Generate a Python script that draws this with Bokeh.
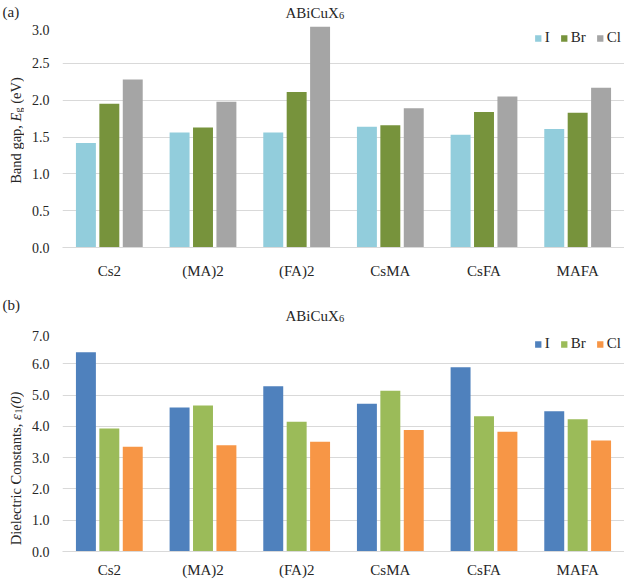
import math
from bokeh.plotting import figure
from bokeh.models import (FactorRange, Range1d, FixedTicker, PrintfTickFormatter,
                          Label, Legend, LegendItem, ColumnDataSource)
from bokeh.transform import dodge
from bokeh.layouts import column, row
from bokeh.embed import file_html
from bokeh.resources import INLINE

# ---------------- data ----------------
categories = ["Cs2", "(MA)2", "(FA)2", "CsMA", "CsFA", "MAFA"]
series = ["I", "Br", "Cl"]

band_gap_I = [1.42, 1.56, 1.56, 1.64, 1.53, 1.61]
band_gap_Br = [1.95, 1.63, 2.11, 1.66, 1.84, 1.83]
band_gap_Cl = [2.28, 1.98, 3.00, 1.89, 2.05, 2.17]
band_ticks = [0.0, 0.5, 1.0, 1.5, 2.0, 2.5, 3.0]

diel_I = [6.37, 4.60, 5.28, 4.72, 5.89, 4.48]
diel_Br = [3.93, 4.67, 4.15, 5.14, 4.32, 4.23]
diel_Cl = [3.35, 3.40, 3.51, 3.88, 3.83, 3.55]
diel_ticks = [0.0, 1.0, 2.0, 3.0, 4.0, 5.0, 6.0, 7.0]

top_colors = ["#92CDDC", "#77933C", "#A5A5A5"]
bottom_colors = ["#4F81BD", "#9BBB59", "#F79646"]

FONT = "Liberation Serif"
TXT = "#262626"
GRID = "#D9D9D9"
W = 624
YLAB_W = 24
FRAME_LEFT = 62


def blank(width, height, top=0, bottom=0):
    f = figure(width=width, height=height, x_range=Range1d(0, width),
               y_range=Range1d(0, height - top - bottom), x_axis_type=None,
               y_axis_type=None, min_border=0, min_border_top=top,
               min_border_bottom=bottom, output_backend="svg",
               toolbar_location=None, title_location=None)
    f.outline_line_color = None
    f.xgrid.visible = False
    f.ygrid.visible = False
    return f


def txt(x, y, text, size="15px", style="normal", angle=0.0, x_offset=0, y_offset=0):
    return Label(x=x, y=y, text=text, angle=angle, x_offset=x_offset, y_offset=y_offset,
                 text_font=FONT, text_font_size=size, text_color=TXT,
                 text_font_style=style, text_baseline="alphabetic", text_align="left")


def header(height, tag, tag_base, title_base):
    h = blank(W, height)
    h.add_layout(txt(2, height - tag_base, tag))
    h.add_layout(txt(285, height - title_base, "ABiCuX"))
    h.add_layout(txt(338.5, height - title_base - 3, "6", size="10.5px"))
    return h


def ylabel(height, top, bottom, center_above_bottom, parts):
    f = blank(YLAB_W, height, top, bottom)
    total = sum(w for _, w, _, _ in parts)
    pos = -total / 2
    for text, w, size, style in parts:
        sub = style == "sub"
        f.add_layout(txt(15 + (3 if sub else 0), center_above_bottom, text, size=size,
                         style="italic" if style == "italic" else "normal",
                         angle=math.pi / 2, y_offset=pos))
        pos += w
    return f


def panel(values, colors, ticks, ymax, top, frame_h, border_bottom, label_standoff):
    src = ColumnDataSource(dict(cat=categories, I=values[0], Br=values[1], Cl=values[2]))
    p = figure(x_range=FactorRange(factors=categories, range_padding=0),
               y_range=Range1d(0, ymax), width=W - YLAB_W,
               height=top + frame_h + border_bottom,
               output_backend="svg", toolbar_location=None, title_location=None,
               min_border_left=FRAME_LEFT - YLAB_W, min_border_right=0,
               min_border_top=top, min_border_bottom=border_bottom)
    p.outline_line_color = None
    offsets = [-0.25, 0.0, 0.25]
    items = []
    for s, off, c in zip(series, offsets, colors):
        r = p.vbar(x=dodge("cat", off, range=p.x_range), top=s, width=0.213,
                   source=src, fill_color=c, line_color=None)
        items.append(LegendItem(label=s, renderers=[r]))

    legend = Legend(items=items, orientation="horizontal", location="top_right",
                    margin=3, padding=5, spacing=10, label_standoff=3,
                    glyph_width=8, glyph_height=8, label_height=14, label_width=1,
                    label_text_font=FONT, label_text_font_size="15px",
                    label_text_color=TXT, border_line_color=None,
                    background_fill_alpha=0)
    p.add_layout(legend)

    p.xgrid.grid_line_color = None
    p.ygrid.grid_line_color = GRID
    p.ygrid.ticker = FixedTicker(ticks=ticks)
    p.yaxis.ticker = FixedTicker(ticks=ticks)
    p.yaxis.formatter = PrintfTickFormatter(format="%.1f")
    for ax in (p.xaxis[0], p.yaxis[0]):
        ax.major_tick_line_color = None
        ax.minor_tick_line_color = None
        ax.major_tick_out = 0
        ax.major_tick_in = 0
        ax.minor_tick_out = 0
        ax.minor_tick_in = 0
        ax.major_label_text_font = FONT
        ax.major_label_text_color = TXT
    p.xaxis.major_label_text_font_size = "15px"
    p.yaxis.major_label_text_font_size = "14px"
    p.yaxis.axis_line_color = None
    p.yaxis.major_label_standoff = 13
    p.xaxis.axis_line_color = GRID
    p.xaxis.major_label_standoff = label_standoff
    return p


top_label = [("Band gap,", 62.4, "14.5px", "normal"), ("E", 8.9, "14.5px", "italic"),
             ("g", 8.8, "10px", "sub"), ("(eV)", 26.6, "14.5px", "normal")]
bottom_label = [("Dielectric Constants,", 125.3, "14.5px", "normal"), ("ε", 6.4, "14.5px", "italic"),
                ("1", 5.0, "10px", "sub"), ("(0)", 16.9, "14.5px", "italic")]

# panel (a): header 0..24, plot 24..281 (frame 26..247)
h1 = header(24, "(a)", 11, 12)
p1 = panel([band_gap_I, band_gap_Br, band_gap_Cl], top_colors, band_ticks, 3.0,
           top=2, frame_h=221, border_bottom=34, label_standoff=15)
y1 = ylabel(257, 2, 34, 247 - 130, top_label)

# panel (b): header 281..330, plot 330..580 (frame 332..551)
h2 = header(49, "(b)", 23, 34)
p2 = panel([diel_I, diel_Br, diel_Cl], bottom_colors, diel_ticks, 7.0,
           top=2, frame_h=219, border_bottom=29, label_standoff=10)
y2 = ylabel(250, 2, 29, 551 - 468, bottom_label)

layout = column(h1, row(y1, p1, spacing=0), h2, row(y2, p2, spacing=0), spacing=0)
open("out.html", "w").write(file_html(layout, INLINE))
